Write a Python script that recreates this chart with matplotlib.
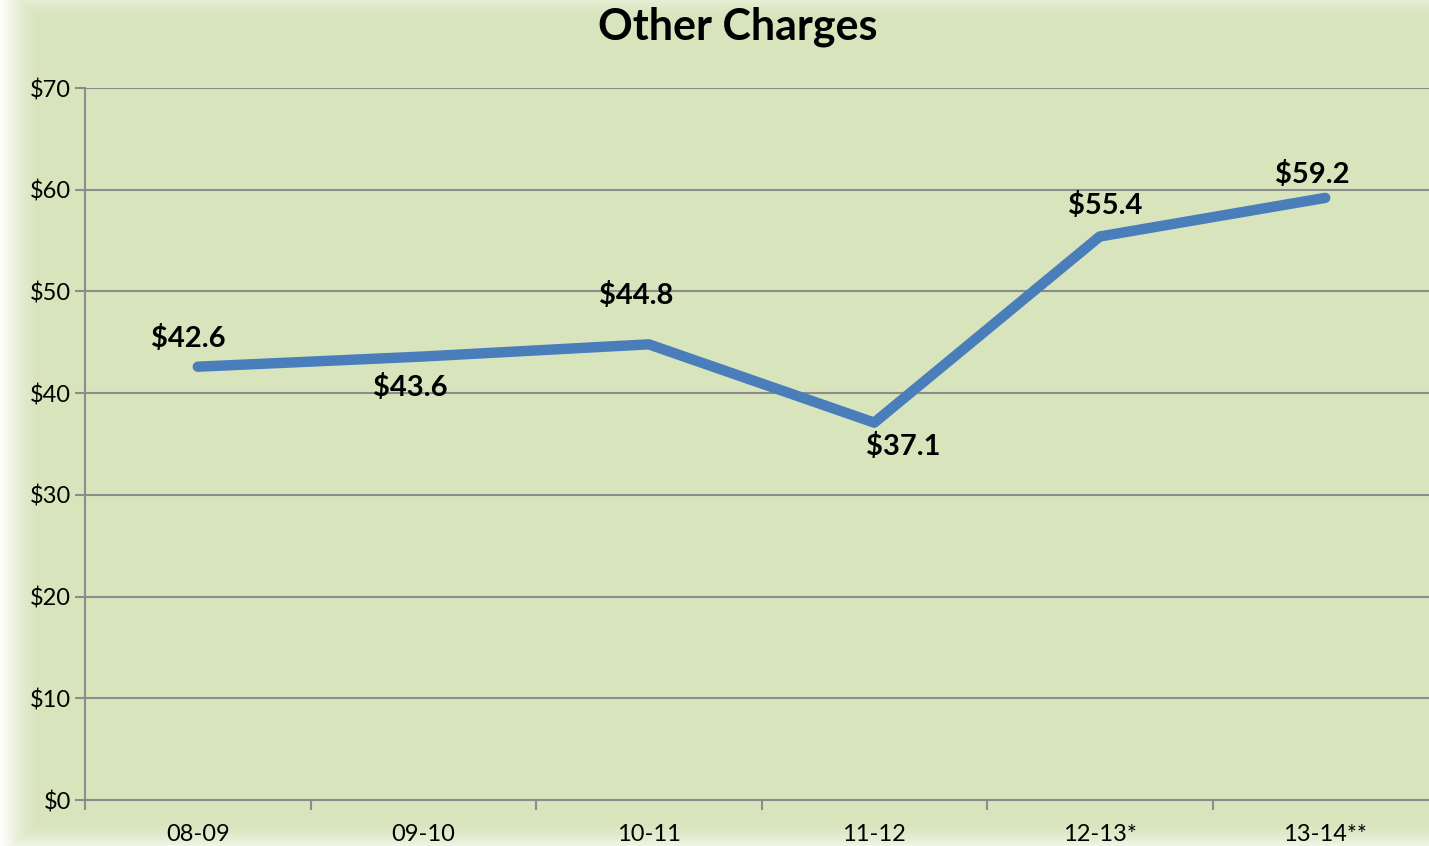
import matplotlib
matplotlib.use("Agg")
import matplotlib.pyplot as plt
import numpy as np

# data
years = ["08-09", "09-10", "10-11", "11-12", "12-13*", "13-14**"]
charges = [42.6, 43.6, 44.8, 37.1, 55.4, 59.2]
labels = ["$42.6", "$43.6", "$44.8", "$37.1", "$55.4", "$59.2"]

# label placement (offset in points from the point)
label_offsets = [(-7, 20), (-9, -22), (-9, 35), (21, -17), (4, 22), (-9, 17)]

plt.rcParams["font.family"] = ["Lato", "DejaVu Sans"]

bg = "#D8E4BC"
line_color = "#4A7EBB"
grid_color = "#8C8C8C"

fig = plt.figure(figsize=(14.29, 8.46), dpi=100)
fig.patch.set_facecolor(bg)

# soft white glow along left / bottom / top edges
glow = fig.add_axes([0, 0, 1, 1], zorder=-10)
h, w = 846, 1429
yy, xx = np.mgrid[0:h, 0:w]
fade_l = np.clip(1 - xx / 40.0, 0, 1) ** 1.5
fade_b = np.clip(1 - (h - 1 - yy) / 25.0, 0, 1) ** 1.5 * 0.6
fade_t = np.clip(1 - yy / 20.0, 0, 1) ** 1.5 * 0.4
alpha = np.maximum(np.maximum(fade_l, fade_b), fade_t)
img = np.ones((h, w, 4))
img[..., 3] = alpha
glow.imshow(img, aspect="auto", extent=(0, 1, 0, 1))
glow.axis("off")

ax = fig.add_axes([85 / 1429, 46 / 846, 1353 / 1429, 712 / 846])
ax.set_facecolor("none")

x = np.arange(len(years))
ax.plot(x, charges, color=line_color, linewidth=7.5, solid_capstyle="round",
        solid_joinstyle="round", zorder=3)

for xi, yi, lab, off in zip(x, charges, labels, label_offsets):
    ax.annotate(lab, (xi, yi), xytext=off, textcoords="offset points",
                ha="center", va="center", fontsize=21, fontweight="bold",
                color="black", zorder=4)

ax.set_xlim(-0.5, len(years) - 0.5)
ax.set_ylim(0, 70)
ax.set_yticks(np.arange(0, 71, 10))
ax.set_yticklabels([f"${v}" for v in range(0, 71, 10)], fontsize=17)
ax.set_xticks(x)
ax.set_xticklabels(years, fontsize=17)
ax.set_xticks(np.arange(-0.5, len(years), 1), minor=True)
ax.tick_params(axis="x", which="major", length=0, pad=17)
ax.tick_params(axis="x", which="minor", length=7, color=grid_color, width=1.5)
ax.tick_params(axis="y", length=7, color=grid_color, width=1.5, pad=3)

ax.grid(axis="y", color=grid_color, linewidth=1.5)
ax.set_axisbelow(True)
for side in ["top", "right"]:
    ax.spines[side].set_visible(False)
for side in ["left", "bottom"]:
    ax.spines[side].set_color(grid_color)
    ax.spines[side].set_linewidth(1.5)

fig.text(738 / 1429, 1 - 27 / 846, "Other Charges", ha="center", va="center",
         fontsize=31, fontweight="bold")

fig.savefig("out.png", dpi=100, facecolor=fig.get_facecolor())
